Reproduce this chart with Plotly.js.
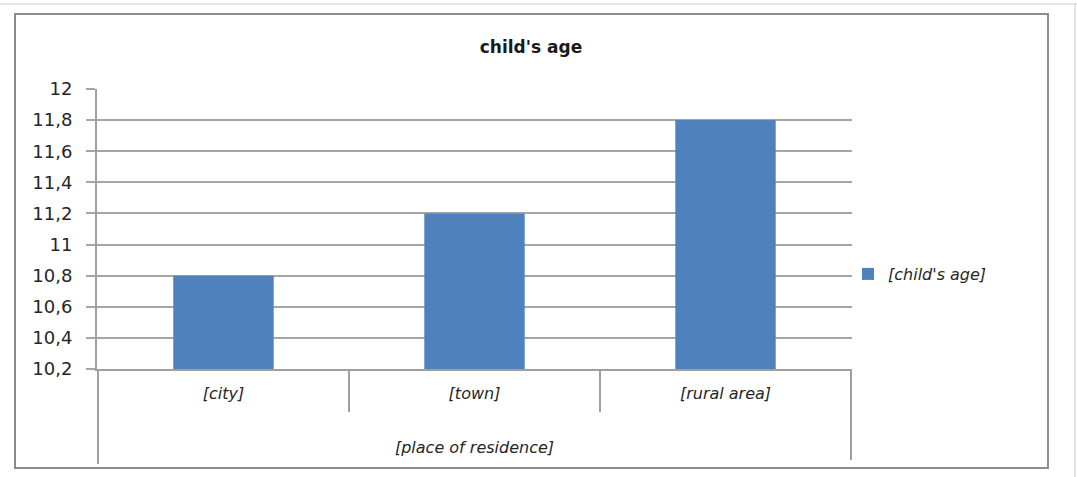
<!DOCTYPE html>
<html>
<head>
<meta charset="utf-8">
<script src="https://cdn.plot.ly/plotly-3.0.1.min.js"></script>
<style>html,body{margin:0;padding:0;background:#fff;}#chart{width:1077px;height:477px;}</style>
</head>
<body>
<div id="chart"></div>
<script>
var categories = ["[city]", "[town]", "[rural area]"];
var childAge = [10.8, 11.2, 11.8];
var seriesName = "[child's age]";
var chartTitle = "child's age";
var groupLabel = "[place of residence]";
var yTicks = [10.2, 10.4, 10.6, 10.8, 11, 11.2, 11.4, 11.6, 11.8, 12];

var FONT = "'DejaVu Sans', 'Open Sans', sans-serif";
var W = 1077, H = 477;
var L = 97, R = 852, T = 89, B = 369;
function px(x){ return (x - L) / (R - L); }
function py(y){ return (B - y) / (B - T); }

var trace = {
  type: 'bar',
  x: categories,
  y: childAge,
  name: seriesName,
  marker: {color: '#4f81bd'},
  showlegend: true,
  hoverinfo: 'x+y'
};

var shapes = [
  {type:'rect', xref:'paper', yref:'paper', x0:px(15), x1:px(1048), y0:py(14), y1:py(468),
   line:{color:'#8c8c8c', width:2}, layer:'below'},
  {type:'line', xref:'paper', yref:'paper', x0:px(0), x1:px(1077), y0:py(4), y1:py(4),
   line:{color:'#c8c8c8', width:1}},
  {type:'line', xref:'paper', yref:'paper', x0:px(1075), x1:px(1075), y0:py(4), y1:py(477),
   line:{color:'#c8c8c8', width:1}},
  {type:'line', xref:'x', yref:'paper', x0:-0.5, x1:-0.5, y0:0, y1:py(464), line:{color:'#a0a0a0', width:2}},
  {type:'line', xref:'x', yref:'paper', x0:0.5, x1:0.5, y0:0, y1:py(412), line:{color:'#a0a0a0', width:2}},
  {type:'line', xref:'x', yref:'paper', x0:1.5, x1:1.5, y0:0, y1:py(412), line:{color:'#a0a0a0', width:2}},
  {type:'line', xref:'x', yref:'paper', x0:2.5, x1:2.5, y0:0, y1:py(460), line:{color:'#a0a0a0', width:2}}
];

var layout = {
  width: W, height: H,
  margin: {l: L, r: W - R, t: T, b: H - B, pad: 0},
  paper_bgcolor: '#ffffff',
  plot_bgcolor: '#ffffff',
  separators: ',.',
  bargap: 0.6,
  font: {family: FONT, color: '#262626'},
  title: {
    text: '<b>' + chartTitle + '</b>',
    font: {family: FONT, size: 17, color: '#1a1a1a'},
    x: 531 / W, xref: 'container', xanchor: 'center',
    y: 1 - 47 / H, yref: 'container', yanchor: 'middle'
  },
  xaxis: {
    type: 'category',
    categoryorder: 'array',
    categoryarray: categories,
    showgrid: false,
    showline: true,
    linecolor: '#a0a0a0',
    linewidth: 2,
    ticks: '',
    tickfont: {family: FONT, size: 16, color: '#262626', style: 'italic'},
    ticklabelstandoff: 9,
    automargin: false,
    fixedrange: true,
    title: {
      text: groupLabel,
      font: {family: FONT, size: 16, color: '#262626', style: 'italic'},
      standoff: 40
    }
  },
  yaxis: {
    range: [10.2, 12],
    tickvals: yTicks,
    showgrid: true,
    gridcolor: '#a6a6a6',
    gridwidth: 2,
    showline: true,
    linecolor: '#a0a0a0',
    linewidth: 2,
    ticks: 'outside',
    ticklen: 9,
    tickwidth: 2,
    tickcolor: '#a6a6a6',
    tickfont: {family: FONT, size: 18, color: '#262626'},
    ticklabelstandoff: 10,
    zeroline: false,
    automargin: false,
    fixedrange: true
  },
  legend: {
    x: px(848), xanchor: 'left',
    y: py(274), yanchor: 'middle',
    font: {family: FONT, size: 16, color: '#262626', style: 'italic'},
    bgcolor: 'rgba(0,0,0,0)',
    itemwidth: 30
  },
  shapes: shapes
};

Plotly.newPlot('chart', [trace], layout, {displayModeBar: false, staticPlot: true});
</script>
</body>
</html>
